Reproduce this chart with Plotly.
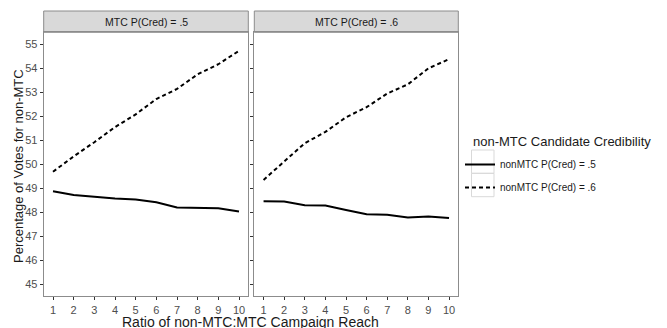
import plotly.graph_objects as go

W, H = 667, 328
OFF = 8  # page body margin

ratio = [1, 2, 3, 4, 5, 6, 7, 8, 9, 10]
panel_labels = ["MTC P(Cred) = .5", "MTC P(Cred) = .6"]
series_names = ["nonMTC P(Cred) = .5", "nonMTC P(Cred) = .6"]

p1_cred5 = [48.88, 48.72, 48.65, 48.57, 48.53, 48.42, 48.20, 48.20, 48.17, 48.03]
p1_cred6 = [49.69, 50.33, 50.92, 51.55, 52.08, 52.72, 53.14, 53.75, 54.17, 54.73]
p2_cred5 = [48.46, 48.45, 48.29, 48.28, 48.10, 47.92, 47.90, 47.78, 47.83, 47.76]
p2_cred6 = [49.35, 50.10, 50.88, 51.35, 51.96, 52.38, 52.95, 53.33, 54.00, 54.38]

y_ticks = [45, 46, 47, 48, 49, 50, 51, 52, 53, 54, 55]

FONT = "Arial, Liberation Sans, sans-serif"


def px_x(p):
    return (p - OFF) / W


def px_y(p):
    return 1 - (p - OFF) / H


fig = go.Figure()
panels = [(p1_cred5, p1_cred6, "x", "y"), (p2_cred5, p2_cred6, "x2", "y2")]
for i, (s5, s6, xa, ya) in enumerate(panels):
    fig.add_trace(go.Scatter(x=ratio, y=s5, mode="lines", xaxis=xa, yaxis=ya,
                             line=dict(color="black", width=2),
                             name=series_names[0], legendgroup="a",
                             showlegend=(i == 0)))
    fig.add_trace(go.Scatter(x=ratio, y=s6, mode="lines", xaxis=xa, yaxis=ya,
                             line=dict(color="black", width=2, dash="4px,3px"),
                             name=series_names[1], legendgroup="b",
                             showlegend=(i == 0)))

ydom = [px_y(296.3), px_y(32.3)]
common_x = dict(range=[0.55, 10.45], tickmode="array", tickvals=ratio,
                ticks="outside", ticklen=3, tickcolor="#333333", tickwidth=1,
                tickfont=dict(size=11, color="#4d4d4d", family=FONT),
                showgrid=False, zeroline=False, showline=True, mirror=True,
                linecolor="#8c8c8c", linewidth=1)
common_y = dict(range=[44.5, 55.5], tickmode="array", tickvals=y_ticks,
                ticks="outside", ticklen=3, tickcolor="#333333", tickwidth=1,
                tickfont=dict(size=11, color="#4d4d4d", family=FONT),
                showgrid=False, zeroline=False, showline=True, mirror=True,
                linecolor="#8c8c8c", linewidth=1, domain=ydom)

fig.update_layout(
    width=W, height=H,
    margin=dict(l=0, r=0, t=0, b=0),
    paper_bgcolor="white", plot_bgcolor="white",
    font=dict(family=FONT, color="#1a1a1a"),
    xaxis=dict(domain=[px_x(43.7), px_x(248.3)], anchor="y", **common_x),
    xaxis2=dict(domain=[px_x(254.3), px_x(458.3)], anchor="y2", **common_x),
    yaxis=dict(anchor="x", **common_y),
    yaxis2=dict(anchor="x2", showticklabels=False, matches="y",
                **{k: v for k, v in common_y.items() if k != "range"}),
    showlegend=True,
    legend=dict(x=px_x(460), xanchor="left", y=px_y(150), yanchor="top",
                font=dict(size=10, color="#1a1a1a", family=FONT),
                bgcolor="rgba(0,0,0,0)", borderwidth=0, tracegroupgap=4,
                itemwidth=30),
)

shapes = []
annotations = []
for i, xa in enumerate(["x", "x2"]):
    shapes.append(dict(type="rect", xref=f"{xa} domain", x0=0, x1=1,
                       yref="paper", y0=ydom[1], y1=px_y(11),
                       fillcolor="#d9d9d9", line=dict(color="#8c8c8c", width=1),
                       layer="below"))
    annotations.append(dict(text=panel_labels[i], xref=f"{xa} domain", x=0.5,
                            yref="paper", y=(ydom[1] + px_y(11)) / 2,
                            showarrow=False, xanchor="center", yanchor="middle",
                            font=dict(size=10.5, color="#1a1a1a", family=FONT)))

# legend key boxes
for y0, y1 in [(150, 173.3), (173.3, 196.7)]:
    shapes.append(dict(type="rect", xref="paper", yref="paper",
                       x0=px_x(471.5), x1=px_x(494), y0=px_y(y1), y1=px_y(y0),
                       fillcolor="rgba(0,0,0,0)", line=dict(color="#d9d9d9", width=1)))

annotations.append(dict(text="non-MTC Candidate Credibility", xref="paper", yref="paper",
                        x=px_x(471), y=px_y(141), xanchor="left", yanchor="middle",
                        showarrow=False, font=dict(size=13, color="#1a1a1a", family=FONT)))
annotations.append(dict(text="Ratio of non-MTC:MTC Campaign Reach", xref="paper", yref="paper",
                        x=px_x(251), y=px_y(322), xanchor="center", yanchor="middle",
                        showarrow=False, font=dict(size=14, color="#1a1a1a", family=FONT)))
annotations.append(dict(text="Percentage of Votes for non-MTC", xref="paper", yref="paper",
                        x=px_x(18), y=px_y(166), xanchor="center", yanchor="middle",
                        textangle=-90, showarrow=False,
                        font=dict(size=13, color="#1a1a1a", family=FONT)))

fig.update_layout(shapes=shapes, annotations=annotations)
fig.write_html("out.html")
